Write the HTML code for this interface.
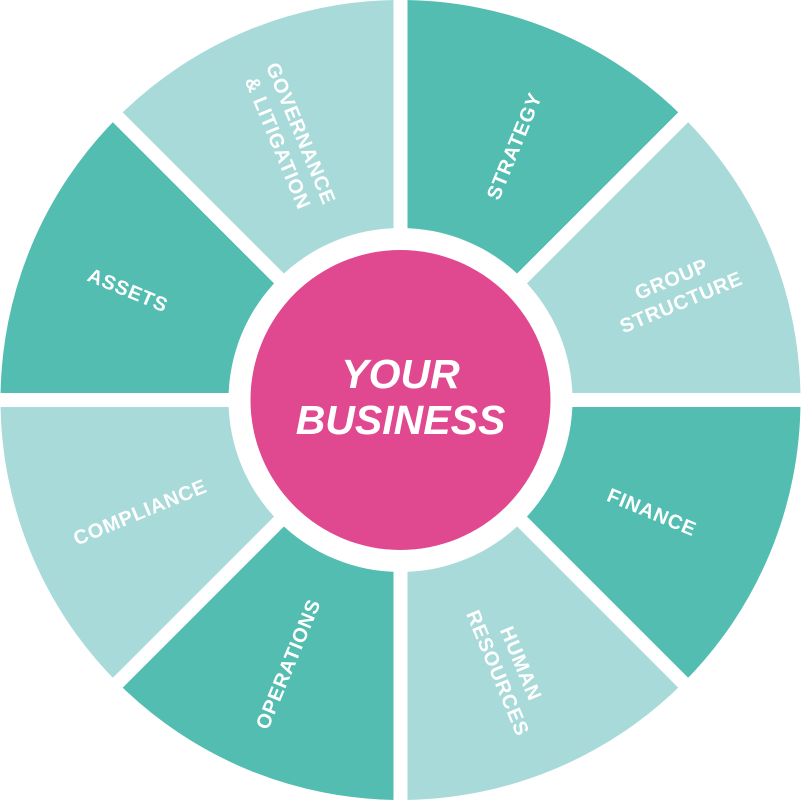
<!DOCTYPE html>
<html><head><meta charset="utf-8"><style>
html,body{margin:0;padding:0;background:#fff;width:801px;height:800px;overflow:hidden}
text{font-family:"Liberation Sans",sans-serif;font-weight:bold;fill:#fff}
</style></head><body>
<svg width="801" height="800" viewBox="0 0 801 800">
<g transform="translate(400.5,400)">
<path d="M0 0 L0 -400 A400 400 0 0 1 282.8 -282.8Z" fill="#52bdb0"/>
<path d="M0 0 L282.8 -282.8 A400 400 0 0 1 400 0Z" fill="#a8dad9"/>
<path d="M0 0 L400 0 A400 400 0 0 1 282.8 282.8Z" fill="#52bdb0"/>
<path d="M0 0 L282.8 282.8 A400 400 0 0 1 0 400Z" fill="#a8dad9"/>
<path d="M0 0 L0 400 A400 400 0 0 1 -282.8 282.8Z" fill="#52bdb0"/>
<path d="M0 0 L-282.8 282.8 A400 400 0 0 1 -400 0Z" fill="#a8dad9"/>
<path d="M0 0 L-400 0 A400 400 0 0 1 -282.8 -282.8Z" fill="#52bdb0"/>
<path d="M0 0 L-282.8 -282.8 A400 400 0 0 1 0 -400Z" fill="#a8dad9"/>
<g stroke="#fff" stroke-width="14">
<line x1="0" y1="-410" x2="0" y2="410"/>
<line x1="-410" y1="0" x2="410" y2="0"/>
<line x1="-290" y1="-290" x2="290" y2="290"/>
<line x1="-290" y1="290" x2="290" y2="-290"/>
</g>
<circle r="172" fill="#fff"/>
<circle r="150" fill="#e0488f"/>
<text x="0" y="-12" font-size="41" font-style="italic" text-anchor="middle">YOUR</text>
<text x="0" y="34" font-size="41" font-style="italic" text-anchor="middle">BUSINESS</text>
</g>
<g font-size="20" text-anchor="middle" letter-spacing="0.8">
<text transform="translate(514,146) rotate(-67.5)" y="7">STRATEGY</text>
<text transform="translate(676,290) rotate(-22.5)"><tspan x="0" y="-5">GROUP</tspan><tspan x="0" y="20">STRUCTURE</tspan></text>
<text transform="translate(652,512) rotate(22.5)" y="7">FINANCE</text>
<text transform="translate(510,668) rotate(67.5)"><tspan x="0" y="-5">HUMAN</tspan><tspan x="0" y="20">RESOURCES</tspan></text>
<text transform="translate(288,664) rotate(-67.5)" y="7">OPERATIONS</text>
<text transform="translate(140,512) rotate(-22.5)" y="7">COMPLIANCE</text>
<text transform="translate(128,290) rotate(22.5)" y="7">ASSETS</text>
<text transform="translate(290,138) rotate(67.5)"><tspan x="0" y="-5">GOVERNANCE</tspan><tspan x="0" y="20">&amp; LITIGATION</tspan></text>
</g>
</svg>
</body></html>
